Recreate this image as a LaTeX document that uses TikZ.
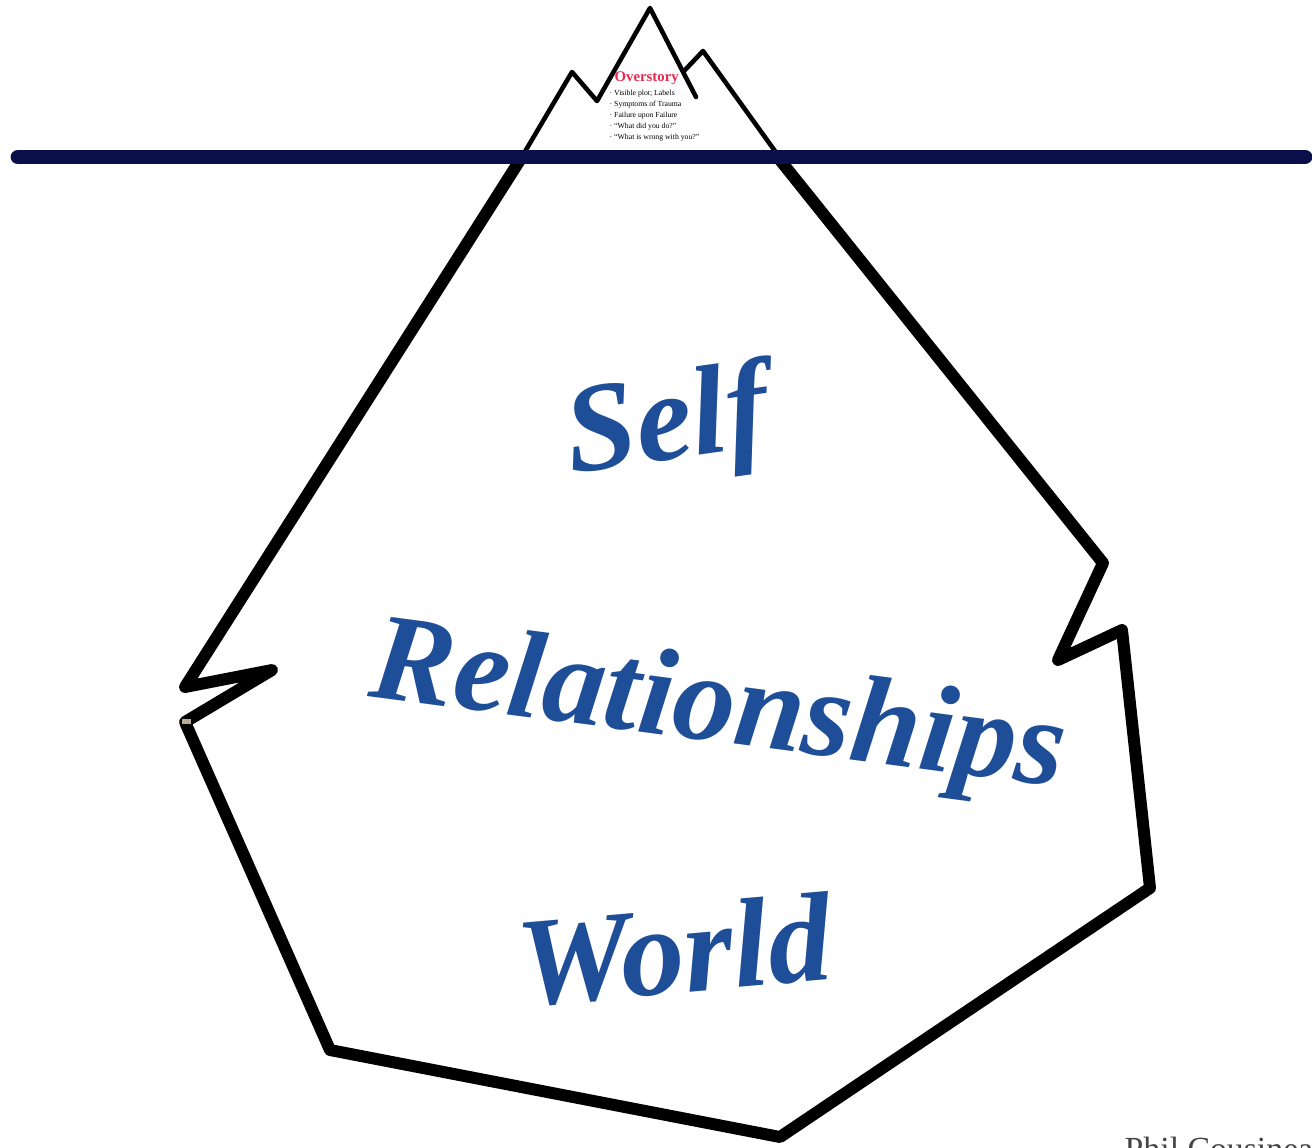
\documentclass[tikz,border=0pt]{standalone}
\usepackage{fontspec}
\setmainfont{Liberation Serif}
\usepackage{xcolor}
\usepackage{tikz}
\usetikzlibrary{positioning}
\definecolor{navy}{HTML}{0A0F4A}
\definecolor{layerblue}{HTML}{1F4E99}
\definecolor{storyred}{HTML}{E8294F}
\definecolor{credgray}{HTML}{444444}
\definecolor{marktan}{HTML}{B8AC98}

\begin{document}
\begin{tikzpicture}[
  x=0.01cm, y=-0.01cm,
  tip/.style={line width=1.3pt, line join=round, line cap=round, color=black},
  berg/.style={line width=3.4pt, line join=round, line cap=round, color=black},
  water/.style={line width=4.2pt, line cap=round, color=navy},
  layer/.style={font=\fontsize{36}{40}\selectfont\bfseries\itshape, text=layerblue, inner sep=0pt},
  bullet/.style={font=\fontsize{2.2}{2.6}\selectfont, text=black, inner sep=0pt, anchor=west},
]
\useasboundingbox (0,0) rectangle (1312,1147);

% tip above the water
\draw[tip] (520,160) -- (572,72) -- (597,101) -- (650,8) -- (696,97);
\draw[tip] (684,71) -- (703,51) -- (780,158);

% berg below the water
\draw[berg] (520,160) -- (185,687) -- (272,670) -- (185,722) -- (330,1050)
  -- (780,1137) -- (1150,888) -- (1122,630) -- (1058,660) -- (1103,563) -- (780,160);
\fill[marktan] (182,719) rectangle (191,724);

% water line
\draw[water] (18,157) -- (1305,157);

% overstory
\node[font=\fontsize{4.2}{5}\selectfont\bfseries, text=storyred, inner sep=0pt, anchor=west] (over) at (614,78) {Overstory};
\node[bullet] (b1) at (609,94) {· Visible plot; Labels};
\node[bullet] (b2) at (609,105) {· Symptoms of Trauma};
\node[bullet] (b3) at (609,116) {· Failure upon Failure};
\node[bullet] (b4) at (609,127) {· “What did you do?”};
\node[bullet] (b5) at (609,138) {· “What is wrong with you?”};

% layers
\node[layer, rotate=8] (self) at (668,428) {Self};
\node[layer, rotate=-7.5, font=\fontsize{35.4}{40}\selectfont\bfseries\itshape] (rel) at (718,712) {Relationships};
\node[layer, rotate=5] (world) at (674,950) {World};

% credit
\node[font=\fontsize{9.6}{11}\selectfont, text=credgray, inner sep=0pt, anchor=base west] (credit) at (1124,1160) {Phil Cousineau};
\end{tikzpicture}
\end{document}
